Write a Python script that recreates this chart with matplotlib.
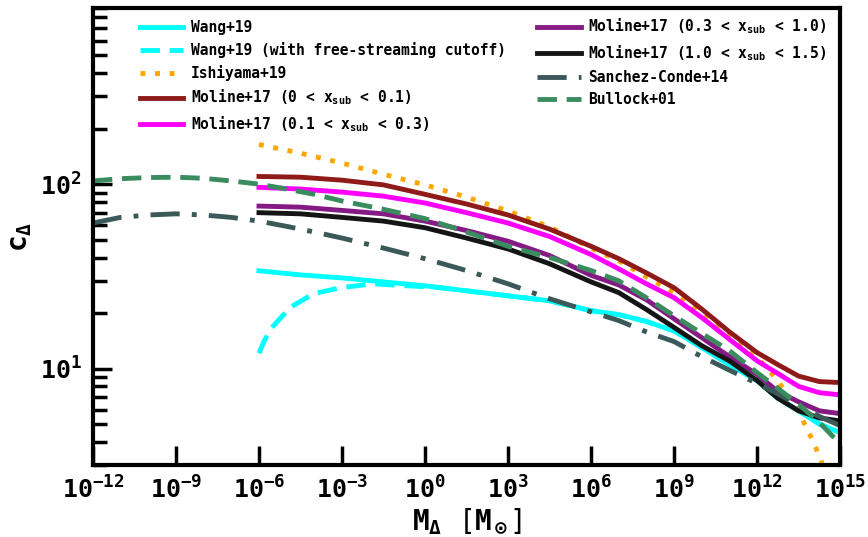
import numpy as np
import matplotlib
matplotlib.use("Agg")
import matplotlib.pyplot as plt
from matplotlib.ticker import NullLocator

plt.rcParams['font.family'] = ['DejaVu Sans Mono', 'DejaVu Sans']
plt.rcParams['font.weight'] = 'bold'
plt.rcParams['mathtext.fontset'] = 'custom'
plt.rcParams['mathtext.rm'] = 'DejaVu Sans Mono:bold'
plt.rcParams['mathtext.it'] = 'DejaVu Sans Mono:bold'
plt.rcParams['mathtext.bf'] = 'DejaVu Sans Mono:bold'

# log10(M) grids and concentrations
logm_main = [-6, -4.5, -3, -1.5, 0, 1.5, 3, 4.5, 6, 7, 8, 9, 10, 11, 12, 12.75, 13.5, 14.25, 15]

wang = [33.9, 32.2, 31.0, 29.5, 28.1, 26.4, 24.8, 23.3, 20.6, 19.6, 18.0, 16.0, 13.0, 10.5, 8.6,
        6.9, 5.9, 5.0, 4.5]

logm_wang_fs = [-6, -5.8, -5.53, -4.88, -4.05, -3.07, -1.88, -0.65, 0.5, 1.5, 3, 4.5, 6, 7, 8, 9,
                10, 11, 12, 12.75, 13.5, 14.25, 15]
wang_fs = [12.1, 14.2, 16.7, 21.4, 25.4, 27.4, 28.8, 28.1, 27.5, 26.4, 24.8, 23.3, 20.6, 19.6,
           18.0, 16.0, 13.0, 10.5, 8.6, 6.9, 5.9, 5.0, 4.5]

logm_ishi = [-6, -4.5, -3, -1.5, 0, 1.5, 3, 4.5, 6, 7, 8, 9, 10, 11, 12, 12.5, 13, 13.5, 14, 14.3, 14.5]
ishiyama = [164, 147, 130, 113, 99, 85, 71.5, 58.6, 45.0, 38.4, 31.4, 25.8, 19.8, 15.1, 11.5, 9.5,
            7.6, 5.8, 4.1, 3.2, 2.6]

moline_a = [110, 109, 105, 99, 88, 78, 68, 57, 46, 39.4, 33.0, 27.4, 21.0, 15.8, 12.2, 10.5, 9.1, 8.5, 8.4]
moline_b = [96, 94, 90.5, 86, 79, 70, 61.5, 52, 41.5, 34.7, 28.8, 24.2, 18.9, 14.4, 11.0, 9.4, 8.0, 7.4, 7.2]
moline_c = [76, 75, 72, 69, 63, 56, 49, 41, 32.0, 28.4, 23.6, 18.6, 14.7, 11.6, 9.3, 7.5, 6.6, 5.9, 5.7]
moline_d = [70, 69, 66, 63, 58, 51, 44.5, 37.0, 29.5, 25.8, 20.9, 16.7, 13.3, 11.0, 8.6, 6.9, 5.9, 5.4, 5.2]

logm_full = [-12, -11, -10, -9, -8, -7, -6, -5, -4, -3, -1.5, 0, 1.5, 3, 4.5, 6, 7, 8, 9, 10, 11, 12,
             12.75, 13.5, 14.25, 15]
sanchez = [61.5, 66, 68, 69, 68, 66, 63, 59, 55, 51, 45, 39.4, 34, 28.8, 23.9, 20.3, 18.2, 15.8,
           14.0, 11.6, 9.8, 8.3, 7.3, 6.3, 5.5, 4.9]
bullock = [104, 107, 108.5, 109, 107.5, 104, 100, 94, 88, 81, 73, 65, 55, 46, 40, 34, 29.9, 24.2,
           19.3, 15.5, 12.5, 9.5, 7.8, 6.4, 5.1, 3.9]

x_tick_exps = [-12, -9, -6, -3, 0, 3, 6, 9, 12, 15]

labels = ['Wang+19', 'Wang+19 (with free-streaming cutoff)', 'Ishiyama+19',
          r'Moline+17 (0 < $x_{\rm sub}$ < 0.1)', r'Moline+17 (0.1 < $x_{\rm sub}$ < 0.3)',
          r'Moline+17 (0.3 < $x_{\rm sub}$ < 1.0)', r'Moline+17 (1.0 < $x_{\rm sub}$ < 1.5)',
          'Sanchez-Conde+14', 'Bullock+01']

fig = plt.figure(figsize=(8.68, 5.37), dpi=100)
ax = fig.add_axes([0.107, 0.134, 0.861, 0.851])

lw = 3.5
m = lambda l: 10.0 ** np.array(l)
ax.plot(m(logm_main), wang, color='cyan', lw=lw, label=labels[0])
ax.plot(m(logm_wang_fs), wang_fs, color='cyan', lw=lw, ls=(0, (4, 2)), label=labels[1])
ax.plot(m(logm_ishi), ishiyama, color='orange', lw=lw, ls=(0, (1, 2)), label=labels[2])
ax.plot(m(logm_main), moline_a, color='#8e1a1a', lw=lw, label=labels[3])
ax.plot(m(logm_main), moline_b, color='magenta', lw=lw, label=labels[4])
ax.plot(m(logm_main), moline_c, color='#851a85', lw=lw, label=labels[5])
ax.plot(m(logm_main), moline_d, color='#151515', lw=lw, label=labels[6])
ax.plot(m(logm_full), sanchez, color='#3b5959', lw=lw, ls=(0, (6, 2.5, 1, 2.5)), label=labels[7])
ax.plot(m(logm_full), bullock, color='#3a8c5e', lw=lw, ls=(0, (4, 2)), label=labels[8])

ax.set_xscale('log')
ax.set_yscale('log')
ax.set_xlim(1e-12, 1e15)
ax.set_ylim(3, 900)

ax.set_xticks(m(x_tick_exps))
ax.xaxis.set_minor_locator(NullLocator())

for s in ax.spines.values():
    s.set_linewidth(3)
ax.tick_params(which='major', direction='in', length=14, width=2.5, labelsize=18, pad=8)
ax.tick_params(which='minor', direction='in', length=10, width=2.5)

ax.set_xlabel(r'$\mathbf{M_\Delta}$ [$\mathbf{M_\odot}$]', fontsize=20, labelpad=2)
ax.set_ylabel(r'$\mathbf{c_\Delta}$', fontsize=20, labelpad=4)

ax.legend(ncol=2, loc='upper left', bbox_to_anchor=(0.045, 1.01), frameon=False,
          fontsize=10.5, handlelength=3.0, handletextpad=0.5, columnspacing=2.15,
          labelspacing=0.48)

fig.savefig('out.png', dpi=100)
